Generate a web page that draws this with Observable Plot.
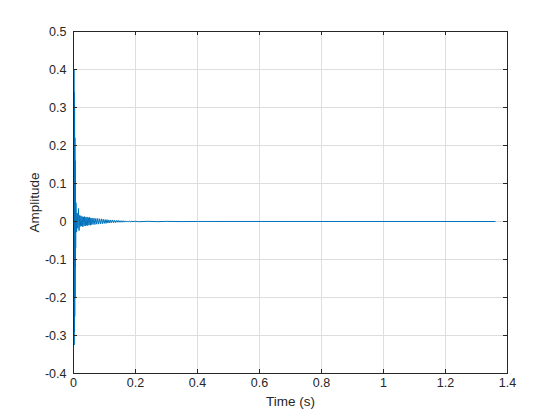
<!DOCTYPE html>
<html><head><meta charset="utf-8">
<script src="https://cdn.jsdelivr.net/npm/d3@7"></script>
<script src="https://cdn.jsdelivr.net/npm/@observablehq/plot@0.6"></script>
<style>body{margin:0;background:#fff}</style>
</head><body><div id="chart"></div>
<script>
// Tick values
const xTicks = [0, 0.2, 0.4, 0.6, 0.8, 1, 1.2, 1.4];
const yTicks = [-0.4, -0.3, -0.2, -0.1, 0, 0.1, 0.2, 0.3, 0.4, 0.5];

// Initial spike (s, amplitude)
const spikeTime = [0, 0.0005, 0.001, 0.0015, 0.002, 0.0025, 0.003, 0.0035, 0.004, 0.0045, 0.005, 0.0055, 0.006, 0.0065, 0.007, 0.0075];
const spikeAmp  = [0, 0.18, -0.26, 0.40, -0.325, 0.34, -0.29, 0.30, -0.25, 0.22, -0.20, 0.16, -0.12, 0.09, -0.07, 0.05];

// Early ringing
const earlyTime = [0.008, 0.010, 0.012, 0.014, 0.016, 0.018, 0.020, 0.022, 0.024, 0.026, 0.028, 0.030, 0.032, 0.034, 0.036, 0.038, 0.040, 0.042, 0.044, 0.046, 0.048, 0.050, 0.052, 0.054, 0.056, 0.058, 0.060];
const earlyAmp  = [0.047, -0.028, 0.022, -0.018, 0.034, -0.024, 0.016, -0.013, 0.015, -0.012, 0.013, -0.014, 0.012, -0.011, 0.013, -0.012, 0.011, -0.010, 0.012, -0.011, 0.010, -0.009, 0.011, -0.010, 0.009, -0.008, 0.009];

// Decay
const decayTime = [0.063, 0.066, 0.069, 0.072, 0.075, 0.078, 0.081, 0.084, 0.087, 0.090, 0.093, 0.096, 0.099, 0.102, 0.105, 0.108, 0.111, 0.114, 0.117, 0.120, 0.123, 0.126, 0.129, 0.132, 0.135, 0.138, 0.141, 0.144, 0.147, 0.150, 0.153, 0.156, 0.159, 0.162, 0.165, 0.168, 0.171, 0.174, 0.177, 0.180, 0.183, 0.186, 0.189, 0.192, 0.195, 0.198];
const decayAmp  = [-0.008, 0.009, -0.008, 0.008, -0.007, 0.008, -0.007, 0.007, -0.006, 0.007, -0.006, 0.006, -0.005, 0.005, -0.005, 0.005, -0.004, 0.004, -0.004, 0.004, -0.003, 0.004, -0.003, 0.003, -0.003, 0.003, -0.002, 0.003, -0.002, 0.002, -0.002, 0.002, -0.002, 0.002, -0.0015, 0.0015, -0.0015, 0.0015, -0.001, 0.0012, -0.001, 0.001, -0.001, 0.001, -0.0008, 0.0008];

// Tail
const tailTime = [0.21, 0.24, 0.27, 0.30, 0.35, 0.40, 1.36];
const tailAmp  = [-0.0006, 0.0005, -0.0004, 0.0003, -0.0002, 0.0001, 0];

const time = [...spikeTime, ...earlyTime, ...decayTime, ...tailTime];
const amplitude = [...spikeAmp, ...earlyAmp, ...decayAmp, ...tailAmp];
const data = time.map((t, i) => ({t, a: amplitude[i]}));

const ink = "#262626";
const gridColor = "#dedede";
const font = "'Liberation Sans', Arial, Helvetica, sans-serif";
const plotW = 560 - 73 - 53, plotH = 420 - 31 - 47;

const chart = Plot.plot({
  width: 560, height: 420,
  marginLeft: 73, marginRight: 53, marginTop: 31, marginBottom: 47,
  style: {fontFamily: font, fontSize: "12px", color: ink, background: "#fff"},
  x: {domain: [0, 1.4]},
  y: {domain: [-0.4, 0.5]},
  marks: [
    Plot.gridX(xTicks, {stroke: gridColor, strokeOpacity: 1}),
    Plot.gridY(yTicks, {stroke: gridColor, strokeOpacity: 1}),
    Plot.line(data, {x: "t", y: "a", stroke: "#0072BD", strokeWidth: 1}),
    Plot.frame({stroke: ink}),
    Plot.tickX(xTicks, {x: d => d, stroke: ink, insetTop: plotH - 4}),
    Plot.tickX(xTicks, {x: d => d, stroke: ink, insetBottom: plotH - 4}),
    Plot.tickY(yTicks, {y: d => d, stroke: ink, insetRight: plotW - 4}),
    Plot.tickY(yTicks, {y: d => d, stroke: ink, insetLeft: plotW - 4}),
    Plot.axisX(xTicks, {tickSize: 0, tickPadding: 5, tickFormat: d => String(d), label: null, fill: ink, fontSize: 12.5}),
    Plot.axisY(yTicks, {tickSize: 0, tickPadding: 7, tickFormat: d => String(d), label: null, fill: ink, fontSize: 12.5}),
    Plot.text(["Time (s)"], {frameAnchor: "bottom", textAnchor: "middle", lineAnchor: "top", dy: 23, fill: ink, fontSize: 13.5}),
    Plot.text(["Amplitude"], {frameAnchor: "left", textAnchor: "middle", rotate: -90, dx: -39, fill: ink, fontSize: 13.5})
  ]
});
document.getElementById("chart").appendChild(chart);
</script>
</body></html>
